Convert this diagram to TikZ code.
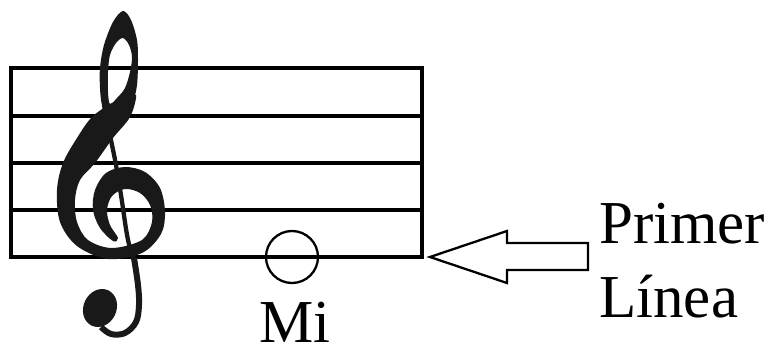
\documentclass[tikz,border=0pt]{standalone}
\usepackage{fontspec}
\setmainfont{Liberation Serif}
\begin{document}
\begin{tikzpicture}[x=1pt,y=-1pt,
	staff/.style={line width=4pt,line cap=rect},
	clef/.style={fill=black!90},
	label/.style={inner sep=0pt,font=\fontsize{61}{74}\selectfont}]
	\useasboundingbox (0,0) rectangle (769,348);
	% pentagrama
	\foreach \y in {68,115.5,163,210,257}
	\draw[staff] (11,\y) -- (422,\y);
	\draw[staff] (11,68) -- (11,257) (422,68) -- (422,257);
	\coordinate (fin) at (422,257);
	% clave de sol: bucle de arriba
	\fill[clef,even odd rule]
		plot[smooth cycle,tension=.55] coordinates {
		(123,11) (131,20) (137,40) (138,60) (137,85) (133,100) (122,112)
		(108,118) (102,105) (100,88) (100,68) (104,45) (113,22)}
		plot[smooth cycle,tension=.55] coordinates {
		(123,38) (129,45) (132,57) (130,72) (125,88) (117,98) (110,104)
		(108,92) (108,72) (110,55) (116,43)};
	% trazo grueso y espiral
	\fill[clef] plot[smooth cycle,tension=.55] coordinates {
		(112,103) (92,117) (77,138) (63,163) (57,190) (60,222) (77,246)
		(108,259) (142,253) (161,234) (165,212) (160,188) (145,172)
		(125,167) (106,173) (95,190) (93,210) (100,228) (113,241)
		(118,238) (110,225) (107,210) (112,196) (125,189) (140,193)
		(150,205) (152,222) (142,240) (112,248) (88,240) (77,222)
		(75,200) (80,180) (95,163) (113,138) (130,117) (136,95) (124,100)};
	\draw[line width=4.3pt,black!90] plot[smooth,tension=.6] coordinates {
		(104,105) (108,125) (111,140) (116,165) (121,195) (128,240) (135,262)};
	\draw[line width=6pt,black!90] plot[smooth,tension=.6] coordinates {
		(134,258) (138,285) (139,305) (136,322) (125,333) (111,334) (101,327)};
	\fill[clef,rotate around={-25:(100,308)}] (100,308) ellipse (16.5 and 19.5);
	% nota y texto
	\node[draw,circle,line width=2.3pt,minimum size=52pt,inner sep=0pt] (nota) at (292,257) {};
	\node[label,anchor=base] (mi) at (295,342) {Mi};
	\node[label,anchor=base west] (primer) at (599,243) {Primer};
	\node[label,anchor=base west] (linea) at (599,317) {Línea};
	% flecha
	\draw[line width=2.3pt,line join=miter] ([xshift=8pt]fin) -- ++(77,-26) -- ++(0,12) -- ++(81,0)
		-- ++(0,27) -- ++(-81,0) -- ++(0,13) -- cycle;
\end{tikzpicture}
\end{document}
